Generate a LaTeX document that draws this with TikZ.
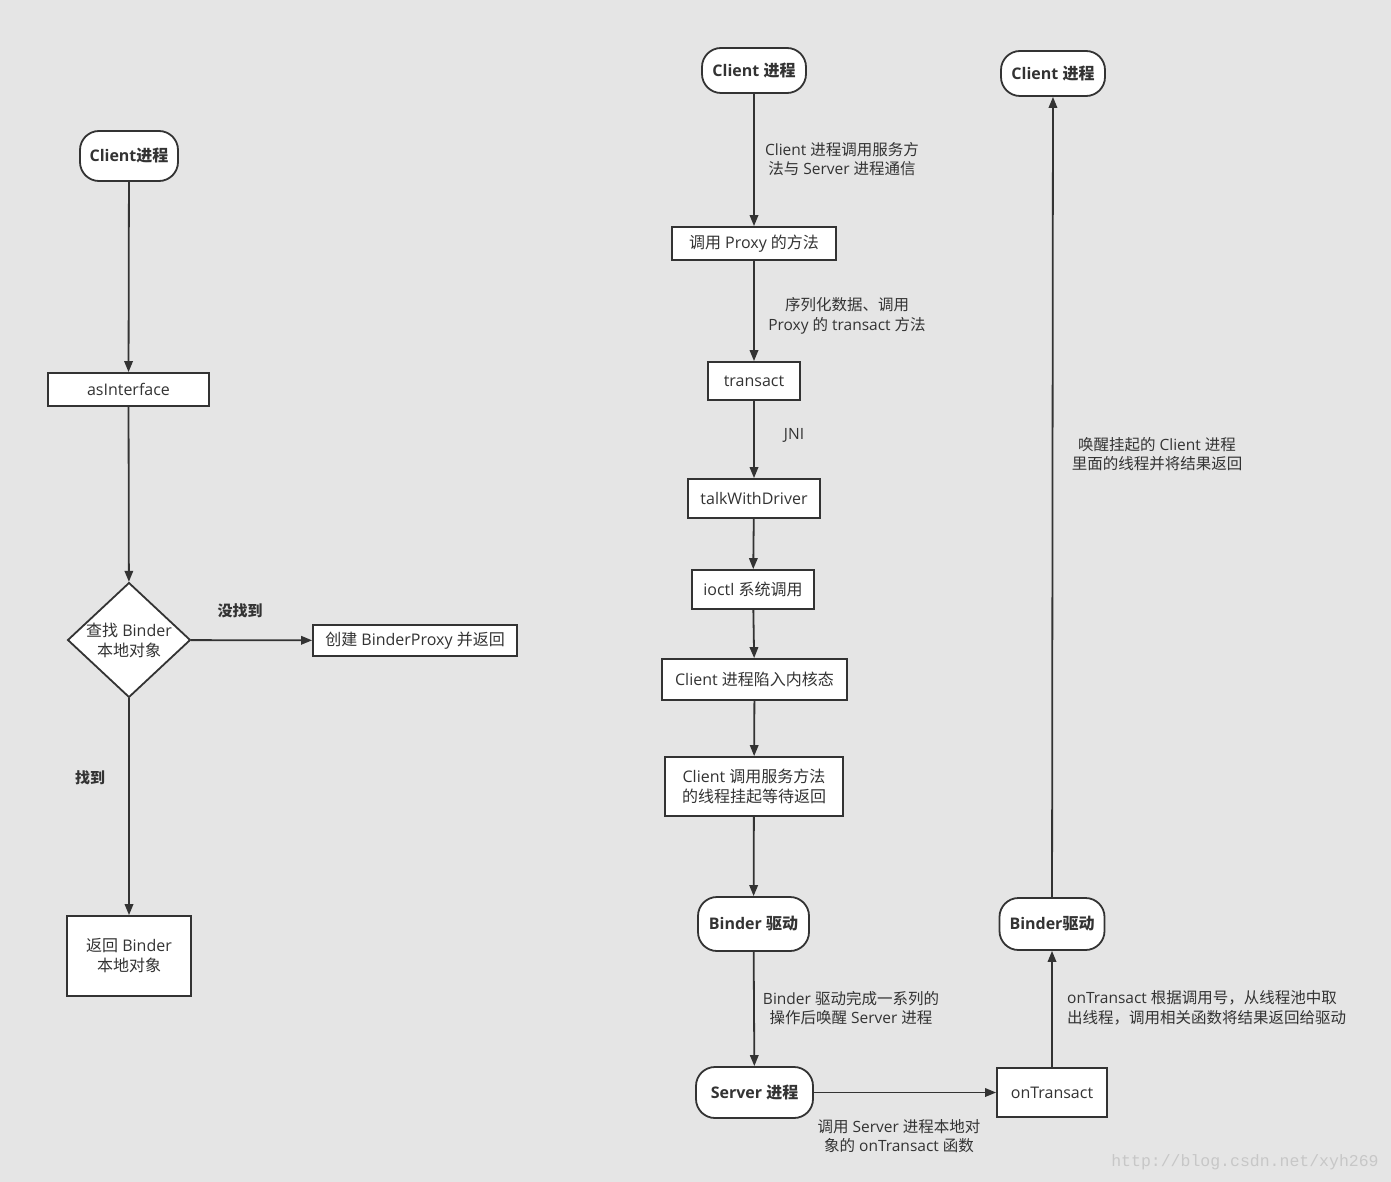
\documentclass[tikz,border=0pt]{standalone}
\usepackage{fontspec}
\setmainfont{Open Sans}
\newfontfamily\cjk{Noto Sans CJK SC}
\newfontfamily\wmfont{Liberation Mono}
\XeTeXinterchartokenstate=1
\newXeTeXintercharclass\cjkclass
\count255="4E00
\loop \XeTeXcharclass\count255=\cjkclass \ifnum\count255<"9FFF \advance\count255 by 1 \repeat
\count255="3000
\loop \XeTeXcharclass\count255=\cjkclass \ifnum\count255<"303F \advance\count255 by 1 \repeat
\count255="FF00
\loop \XeTeXcharclass\count255=\cjkclass \ifnum\count255<"FFEF \advance\count255 by 1 \repeat
\XeTeXinterchartoks 0 \cjkclass = {\begingroup\cjk}
\XeTeXinterchartoks 4095 \cjkclass = {\begingroup\cjk}
\XeTeXinterchartoks \cjkclass 0 = {\endgroup}
\XeTeXinterchartoks \cjkclass 4095 = {\endgroup}
\usetikzlibrary{arrows.meta,shapes.geometric}
\definecolor{bg}{HTML}{E5E5E5}
\definecolor{ln}{HTML}{333333}
\tikzset{
  every node/.style={text=ln},
  proc/.style={draw=ln,line width=1.8pt,fill=white,rounded corners=19pt,inner sep=0pt,font=\fontsize{16}{19}\selectfont\bfseries},
  box/.style={draw=ln,line width=1.8pt,fill=white,inner sep=0pt,align=center,font=\fontsize{16}{20}\selectfont},
  dec/.style={draw=ln,line width=1.8pt,fill=white,diamond,inner sep=0pt,align=center,font=\fontsize{16}{20}\selectfont},
  lbl/.style={align=center,inner sep=0pt,font=\fontsize{15.5}{19.5}\selectfont},
  blbl/.style={inner sep=0pt,font=\fontsize{15}{18}\selectfont\bfseries},
  conn/.style={draw=ln,line width=1.8pt,-{Triangle[length=11pt,width=8.5pt]}},
}
\begin{document}
\begin{tikzpicture}[x=1pt,y=-1pt]
\fill[bg] (0,0) rectangle (1391,1182);
\useasboundingbox (0,0) rectangle (1391,1182);
% left column
\node[proc,minimum width=98pt,minimum height=50pt] (lc) at (129,156) {Client进程};
\node[box,minimum width=161pt,minimum height=33pt] (asi) at (128.5,389.5) {asInterface};
\node[dec,minimum width=118pt,minimum height=110pt,aspect=1.07] (find) at (129,640) {查找 Binder\\本地对象};
\node[box,minimum width=204pt,minimum height=31pt] (create) at (415,640.5) {创建 BinderProxy 并返回};
\node[box,minimum width=124pt,minimum height=80pt] (ret) at (129,956) {返回 Binder\\本地对象};
\node[blbl] (nf) at (240,611) {没找到};
\node[blbl] (fd) at (90,778) {找到};
\draw[conn] (lc) -- (asi);
\draw[conn] (asi) -- (find);
\draw[conn] (find) -- (create);
\draw[conn] (find) -- (ret);
% middle column
\node[proc,minimum width=104pt,minimum height=45pt] (mc) at (754,70.5) {Client 进程};
\node[box,minimum width=164pt,minimum height=33pt] (proxy) at (754,243.5) {调用 Proxy 的方法};
\node[box,minimum width=92pt,minimum height=38pt] (tr) at (754,381) {transact};
\node[box,minimum width=132pt,minimum height=39pt] (twd) at (754,498.5) {talkWithDriver};
\node[box,minimum width=122pt,minimum height=39pt] (ioctl) at (753,589.5) {ioctl 系统调用};
\node[box,minimum width=185pt,minimum height=41pt] (kern) at (754.5,679.5) {Client 进程陷入内核态};
\node[box,minimum width=178pt,minimum height=59pt] (susp) at (754,786.5) {Client 调用服务方法\\的线程挂起等待返回};
\node[proc,minimum width=111pt,minimum height=54pt] (bd1) at (753.5,924) {Binder 驱动};
\node[proc,minimum width=117pt,minimum height=51pt] (srv) at (754.5,1092.5) {Server 进程};
\node[box,minimum width=110pt,minimum height=49pt] (ont) at (1052,1092.5) {onTransact};
\node[proc,minimum width=105pt,minimum height=52pt] (bd2) at (1052,924) {Binder驱动};
\node[proc,minimum width=104pt,minimum height=45pt] (rc) at (1053,73.5) {Client 进程};
\draw[conn] (mc) -- (proxy);
\draw[conn] (proxy) -- (tr);
\draw[conn] (tr) -- (twd);
\draw[conn] (twd) -- (ioctl);
\draw[conn] (ioctl) -- (kern);
\draw[conn] (kern) -- (susp);
\draw[conn] (susp) -- (bd1);
\draw[conn] (bd1) -- (srv);
\draw[conn] (srv) -- (ont);
\draw[conn] (ont) -- (bd2);
\draw[conn] (bd2) -- (rc);
% labels
\node[lbl] (l1) at (842,159) {Client 进程调用服务方\\法与 Server 进程通信};
\node[lbl] (l2) at (847,316) {序列化数据、调用\\Proxy 的 transact 方法};
\node[lbl] (l3) at (794,435) {JNI};
\node[lbl] (l4) at (851,1008) {Binder 驱动完成一系列的\\操作后唤醒 Server 进程};
\node[lbl] (l5) at (899,1136) {调用 Server 进程本地对\\象的 onTransact 函数};
\node[lbl,align=left,anchor=west] (l6) at (1067,1008) {onTransact 根据调用号，从线程池中取\\出线程，调用相关函数将结果返回给驱动};
\node[lbl] (l7) at (1157,454) {唤醒挂起的 Client 进程\\里面的线程并将结果返回};
\node[inner sep=0pt,text=black!22,font=\wmfont\fontsize{16.5}{18}\selectfont] (wm) at (1245,1162) {http://blog.csdn.net/xyh269};
\end{tikzpicture}
\end{document}
